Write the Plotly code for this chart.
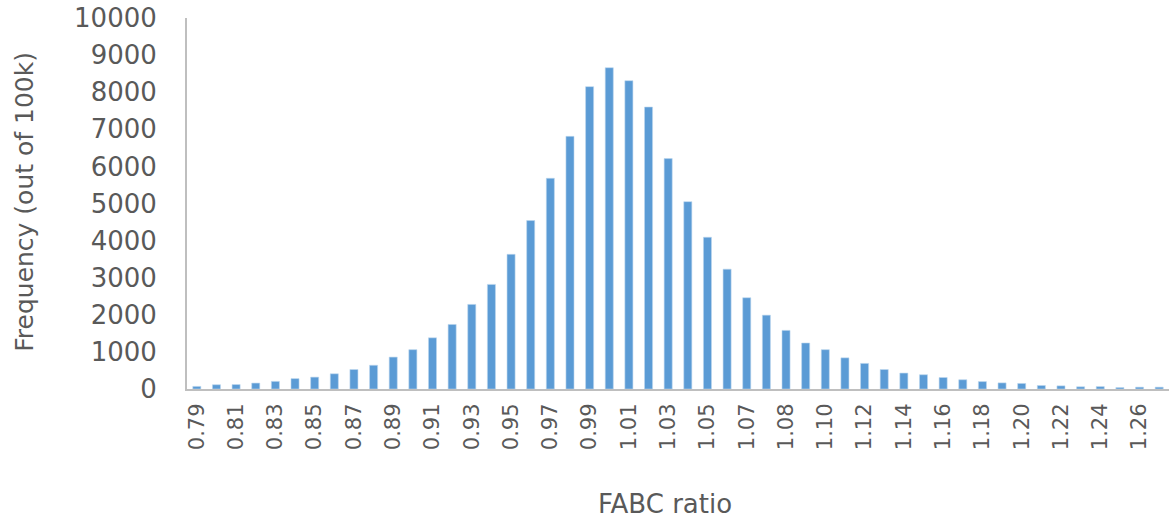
import plotly.graph_objects as go

# Bin centres (FABC ratio), one per bar
bins = ["0.791", "0.801", "0.811", "0.820", "0.830", "0.840", "0.850", "0.860", "0.869", "0.879",
        "0.889", "0.899", "0.909", "0.918", "0.928", "0.938", "0.948", "0.958", "0.967", "0.977",
        "0.987", "0.997", "1.007", "1.016", "1.026", "1.036", "1.046", "1.056", "1.065", "1.075",
        "1.085", "1.095", "1.104", "1.114", "1.124", "1.134", "1.144", "1.153", "1.163", "1.173",
        "1.183", "1.193", "1.202", "1.212", "1.222", "1.232", "1.242", "1.251", "1.261", "1.271"]

# Frequency (out of 100k)
frequency = [70, 115, 120, 160, 205, 280, 320, 410, 525, 640,
             860, 1060, 1380, 1740, 2280, 2820, 3630, 4540, 5680, 6810,
             8150, 8660, 8310, 7600, 6210, 5050, 4090, 3230, 2460, 1990,
             1580, 1240, 1060, 840, 690, 525, 430, 385, 310, 250,
             200, 165, 150, 95, 85, 60, 65, 40, 50, 50]

# Displayed tick labels (every other bin)
tick_labels = ["0.79", "0.81", "0.83", "0.85", "0.87", "0.89", "0.91", "0.93", "0.95", "0.97",
               "0.99", "1.01", "1.03", "1.05", "1.07", "1.08", "1.10", "1.12", "1.14", "1.16",
               "1.18", "1.20", "1.22", "1.24", "1.26"]

y_ticks = [0, 1000, 2000, 3000, 4000, 5000, 6000, 7000, 8000, 9000, 10000]
y_tick_labels = ["0", "1000", "2000", "3000", "4000", "5000", "6000", "7000", "8000", "9000", "10000"]

FONT = "DejaVu Sans"
TXT = "#595959"
AXC = "#BFBFBF"

fig = go.Figure(go.Bar(
    x=bins, y=frequency,
    marker=dict(color="#5B9BD5", line=dict(color="#BDD7EE", width=0.6)),
))

W, H = 1169, 523
L, R, T = 187, 0, 18
B = H - 389.5
pw = W - L - R
ph = H - T - B


def px(xp):
    return (xp - L) / pw


def py(yp):
    return (H - B - yp) / ph


fig.update_layout(
    width=W, height=H,
    margin=dict(l=L, r=R, t=T, b=B, pad=0, autoexpand=False),
    paper_bgcolor="white", plot_bgcolor="white",
    bargap=0.59,
    showlegend=False,
    font=dict(family=FONT, color=TXT),
    xaxis=dict(
        type="category",
        tickmode="array", tickvals=bins[::2], ticktext=tick_labels,
        tickangle=-90, tickfont=dict(size=21, color=TXT, family=FONT),
        showline=True, linecolor=AXC, linewidth=2,
        showgrid=False, ticks="", ticklabelstandoff=4,
        range=[-0.5, len(bins) - 0.5], automargin=False,
    ),
    yaxis=dict(
        range=[0, 10000], tickmode="array", tickvals=y_ticks, ticktext=y_tick_labels,
        tickfont=dict(size=26, color=TXT, family=FONT),
        showline=True, linecolor=AXC, linewidth=2,
        showgrid=False, ticks="", ticklabelstandoff=23, zeroline=False,
        ticklabeloverflow="allow", automargin=False,
    ),
    annotations=[
        dict(text="FABC ratio", xref="paper", yref="paper",
             x=px(665), y=py(505), xanchor="center", yanchor="middle",
             showarrow=False, font=dict(size=26, color=TXT, family=FONT)),
        dict(text="Frequency (out of 100k)", xref="paper", yref="paper",
             x=px(25), y=py(202), xanchor="center", yanchor="middle",
             textangle=-90, showarrow=False, font=dict(size=25, color=TXT, family=FONT)),
    ],
)

fig.write_html(
    "out.html",
    config={"displayModeBar": False},
    post_script="document.body.style.margin='0';document.body.style.overflow='hidden';",
)
